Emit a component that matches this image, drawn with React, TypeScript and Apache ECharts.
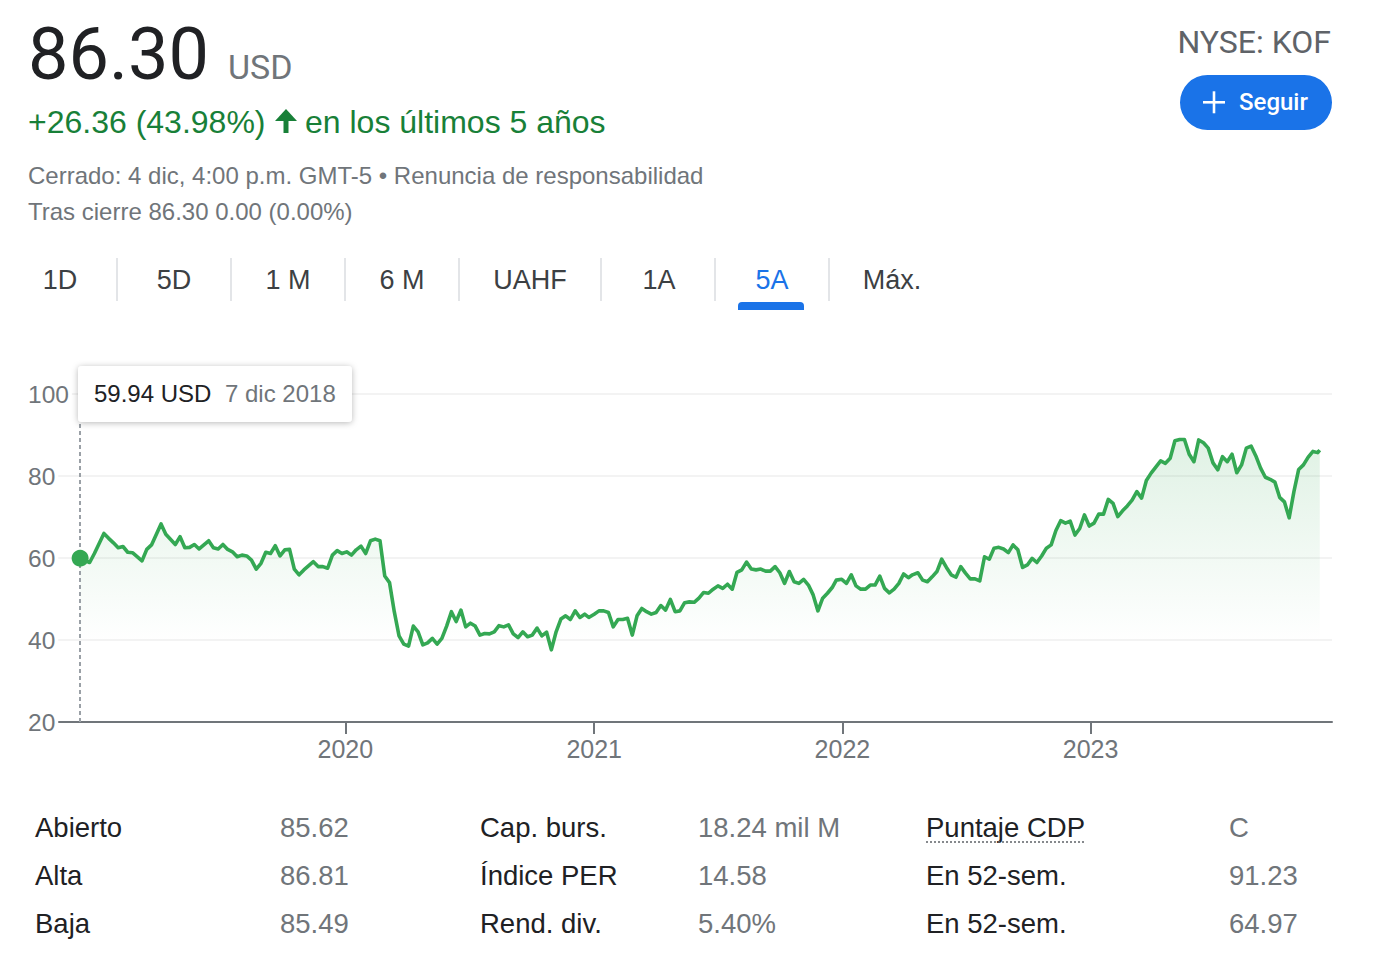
import React, { useEffect, useRef } from "react";
import * as echarts from "echarts";

// ---- data ----
const dates = [
  "2018-12-07","2018-12-21","2018-12-28","2019-01-11","2019-01-18","2019-01-25","2019-02-01","2019-02-08","2019-02-15","2019-02-22",
  "2019-03-08","2019-03-15","2019-03-22","2019-04-05","2019-04-12","2019-04-26","2019-05-03","2019-05-10","2019-05-17","2019-05-24",
  "2019-05-31","2019-06-14","2019-06-21","2019-06-28","2019-07-05","2019-07-12","2019-07-19","2019-07-26","2019-08-02","2019-08-09",
  "2019-08-16","2019-08-23","2019-08-30","2019-09-06","2019-09-13","2019-09-20","2019-09-27","2019-10-04","2019-10-11","2019-10-18",
  "2019-10-25","2019-11-01","2019-11-15","2019-11-22","2019-11-29","2019-12-06","2019-12-13","2019-12-20","2019-12-27","2020-01-03",
  "2020-01-10","2020-01-17","2020-01-24","2020-01-31","2020-02-07","2020-02-14","2020-02-21","2020-02-28","2020-03-06","2020-03-13",
  "2020-03-20","2020-03-27","2020-04-03","2020-04-10","2020-04-17","2020-04-24","2020-05-01","2020-05-08","2020-05-15","2020-05-22",
  "2020-05-29","2020-06-05","2020-06-12","2020-06-19","2020-06-26","2020-07-03","2020-07-10","2020-07-17","2020-07-24","2020-07-31",
  "2020-08-07","2020-08-14","2020-08-21","2020-08-28","2020-09-04","2020-09-11","2020-09-18","2020-09-25","2020-10-02","2020-10-09",
  "2020-10-16","2020-10-23","2020-10-30","2020-11-06","2020-11-13","2020-11-20","2020-11-27","2020-12-04","2020-12-11","2020-12-18",
  "2020-12-24","2021-01-01","2021-01-08","2021-01-15","2021-01-22","2021-01-29","2021-02-05","2021-02-12","2021-02-19","2021-02-26",
  "2021-03-05","2021-03-12","2021-03-19","2021-03-26","2021-04-02","2021-04-09","2021-04-16","2021-04-23","2021-04-30","2021-05-07",
  "2021-05-14","2021-05-21","2021-05-28","2021-06-04","2021-06-11","2021-06-18","2021-06-25","2021-07-02","2021-07-09","2021-07-16",
  "2021-07-23","2021-07-30","2021-08-06","2021-08-13","2021-08-20","2021-08-27","2021-09-03","2021-09-10","2021-09-17","2021-09-24",
  "2021-10-01","2021-10-08","2021-10-15","2021-10-22","2021-10-29","2021-11-05","2021-11-12","2021-11-19","2021-11-26","2021-12-03",
  "2021-12-10","2021-12-17","2021-12-23","2021-12-31","2022-01-07","2022-01-14","2022-01-21","2022-01-28","2022-02-04","2022-02-11",
  "2022-02-18","2022-02-25","2022-03-04","2022-03-11","2022-03-18","2022-03-25","2022-04-01","2022-04-08","2022-04-14","2022-04-22",
  "2022-04-29","2022-05-06","2022-05-13","2022-05-20","2022-05-27","2022-06-03","2022-06-10","2022-06-17","2022-06-24","2022-07-01",
  "2022-07-08","2022-07-15","2022-07-22","2022-07-29","2022-08-05","2022-08-12","2022-08-19","2022-08-26","2022-09-02","2022-09-09",
  "2022-09-16","2022-09-23","2022-09-30","2022-10-07","2022-10-14","2022-10-21","2022-10-28","2022-11-04","2022-11-11","2022-11-18",
  "2022-11-25","2022-12-02","2022-12-09","2022-12-16","2022-12-23","2022-12-30","2023-01-06","2023-01-13","2023-01-20","2023-01-27",
  "2023-02-03","2023-02-10","2023-02-17","2023-02-24","2023-03-03","2023-03-10","2023-03-17","2023-03-24","2023-03-31","2023-04-06",
  "2023-04-14","2023-04-21","2023-04-28","2023-05-05","2023-05-12","2023-05-19","2023-05-26","2023-06-02","2023-06-09","2023-06-16",
  "2023-06-23","2023-06-30","2023-07-07","2023-07-14","2023-07-21","2023-07-28","2023-08-04","2023-08-11","2023-08-18","2023-08-25",
  "2023-09-01","2023-09-08","2023-09-15","2023-09-22","2023-09-29","2023-10-06","2023-10-13","2023-10-20","2023-10-27","2023-11-03",
  "2023-11-10","2023-11-17","2023-11-24","2023-12-01","2023-12-04",
];

const prices = [
  59.94,58.9,61.1,66.0,64.8,63.7,62.5,62.8,61.4,61.3,
  59.3,62.1,63.2,68.3,65.8,63.3,65.2,62.5,62.6,63.3,
  62.2,64.2,62.5,62.2,63.3,62.1,61.5,60.3,60.7,60.5,
  59.5,57.3,58.7,61.4,61.1,63.0,60.5,62.0,62.1,57.3,
  55.9,57.1,59.1,57.9,57.9,57.5,60.7,61.8,61.1,61.5,
  60.7,62.0,62.9,61.1,64.2,64.6,64.2,55.6,54.0,46.9,
  41.0,39.0,38.5,43.4,42.0,38.8,39.3,40.4,39.0,40.4,
  43.4,46.9,44.5,47.3,43.2,44.1,43.4,41.2,41.6,41.5,
  42.0,43.5,43.2,43.7,41.5,40.6,42.0,40.8,41.2,42.9,
  41.0,41.9,37.6,42.0,45.1,45.9,45.0,47.1,45.5,46.3,
  45.5,46.3,47.1,47.1,46.7,43.2,45.0,45.0,45.3,41.2,
  45.9,47.7,46.9,46.3,46.7,48.4,47.3,49.9,46.9,47.1,
  49.1,49.3,49.2,50.2,51.6,51.4,52.4,53.2,52.6,53.6,
  52.4,56.5,57.1,59.0,57.3,57.1,57.3,56.8,56.8,57.9,
  56.4,53.8,56.7,54.2,53.8,54.8,53.4,51.0,47.1,50.2,
  51.4,52.8,54.6,54.8,53.8,55.9,53.2,52.4,52.4,53.4,
  53.4,55.6,52.6,51.5,52.4,53.8,56.1,55.2,55.9,56.4,
  54.6,54.2,55.4,56.7,59.7,57.7,55.9,55.3,57.9,56.3,
  54.9,54.9,54.4,60.3,59.7,62.4,62.6,62.2,61.3,63.2,
  62.0,57.7,58.3,59.9,58.9,60.5,62.4,63.2,66.7,69.1,
  68.5,69.0,65.6,67.2,70.5,67.8,68.5,70.7,70.7,74.3,
  73.3,70.1,71.5,72.7,74.1,76.2,74.6,78.9,80.7,82.0,
  83.7,83.1,84.3,88.6,88.9,88.9,85.3,83.5,88.8,88.1,
  86.8,83.2,81.5,84.7,83.5,85.3,80.8,82.7,86.8,87.3,
  84.9,81.9,79.7,79.2,78.5,74.8,73.7,69.8,76.2,81.6,
  82.7,84.6,86.0,85.7,86.30,
];

const yTicks = [20, 40, 60, 80, 100];
const yearTicks = [2020, 2021, 2022, 2023];
const monthsEs = ["ene", "feb", "mar", "abr", "may", "jun", "jul", "ago", "sept", "oct", "nov", "dic"];

const ticker = "NYSE: KOF";
const lastPrice = "86.30";
const currency = "USD";
const changeText = "+26.36 (43.98%)";
const periodText = "en los últimos 5 años";
const closedText = "Cerrado: 4 dic, 4:00 p.m. GMT-5 • Renuncia de responsabilidad";
const afterText = "Tras cierre 86.30 0.00 (0.00%)";
const tabLabels = ["1D", "5D", "1 M", "6 M", "UAHF", "1A", "5A", "Máx."];
const activeTab = "5A";

const statsLabels = [
  ["Abierto", "Alta", "Baja"],
  ["Cap. burs.", "Índice PER", "Rend. div."],
  ["Puntaje CDP", "En 52-sem.", "En 52-sem."],
];
const statsValues = [
  ["85.62", "86.81", "85.49"],
  ["18.24 mil M", "14.58", "5.40%"],
  ["C", "91.23", "64.97"],
];

// ---- layout ----
const ARIAL = "'Liberation Sans', Arial, sans-serif";
const ROBOTO = "Roboto, Arial, sans-serif";
const GREEN = "#188038";
const LINE_GREEN = "#34a853";
const GRAY = "#70757a";
const DARK = "#202124";
const BLUE = "#1a73e8";

const tabCenters = [60, 174, 288, 402, 530, 659, 772, 892];
const tabSeparators = [117, 231, 345, 459, 601, 715, 829];
const statLabelX = [35, 480, 926];
const statValueX = [280, 698, 1229];
const statRowY = [827, 875, 923];

function txt(
  text: string,
  x: number,
  y: number,
  size: number,
  fill: string,
  align = "left",
  weight = 400,
  z = 10,
  family = ARIAL
) {
  return {
    type: "text",
    z,
    style: {
      text,
      x,
      y,
      fill,
      fontSize: size,
      fontFamily: family,
      fontWeight: weight,
      align,
      textAlign: align,
      verticalAlign: "middle",
      textVerticalAlign: "middle",
    },
  };
}

function fmtDate(s: string) {
  const [y, m, d] = s.split("-").map(Number);
  return `${d} ${monthsEs[m - 1]} ${y}`;
}

export default function App() {
  const ref = useRef<HTMLDivElement>(null);

  useEffect(() => {
    if (!ref.current) return;
    const chart = echarts.init(ref.current, null, { renderer: "svg" });
    const data = dates.map((d, i) => [Date.parse(d), prices[i]]);
    const yearValues = yearTicks.map((y) => Date.UTC(y, 0, 1));

    const graphics: any[] = [];
    // header
    graphics.push(txt(lastPrice, 28, 54, 72, DARK, "left", 400, 10, ROBOTO));
    graphics.push(txt(currency, 228, 67, 34, GRAY, "left", 400, 10, ROBOTO));
    graphics.push(txt(changeText, 28, 122, 32, GREEN));
    graphics.push({
      type: "polygon",
      z: 10,
      shape: { points: [[286, 109], [275, 121], [297, 121]] },
      style: { fill: GREEN },
    });
    graphics.push({ type: "rect", z: 10, shape: { x: 283.5, y: 119, width: 5, height: 14 }, style: { fill: GREEN } });
    graphics.push(txt(periodText, 305, 122, 32, GREEN));
    graphics.push(txt(closedText, 28, 175.5, 24, GRAY));
    graphics.push(txt(afterText, 28, 211.5, 24, GRAY));
    graphics.push(txt(ticker, 1331, 42, 32, "#5f6368", "right", 400, 10, ROBOTO));
    graphics.push({
      type: "rect",
      z: 10,
      shape: { x: 1180, y: 75, width: 152, height: 55, r: 27.5 },
      style: { fill: BLUE },
    });
    graphics.push({ type: "rect", z: 11, shape: { x: 1203, y: 101, width: 22, height: 2.6 }, style: { fill: "#fff" } });
    graphics.push({ type: "rect", z: 11, shape: { x: 1212.7, y: 91.3, width: 2.6, height: 22 }, style: { fill: "#fff" } });
    graphics.push(txt("Seguir", 1239, 102, 24, "#fff", "left", 500, 11, ROBOTO));

    // tabs
    tabLabels.forEach((t, i) => {
      graphics.push(txt(t, tabCenters[i], 279.5, 27, t === activeTab ? BLUE : "#3c4043", "center"));
    });
    tabSeparators.forEach((x) => {
      graphics.push({
        type: "line",
        z: 10,
        shape: { x1: x, y1: 258, x2: x, y2: 301 },
        style: { stroke: "#dadce0", lineWidth: 1.5 },
      });
    });
    graphics.push({
      type: "rect",
      z: 10,
      shape: { x: 738, y: 302, width: 66, height: 8, r: [4, 4, 0, 0] },
      style: { fill: BLUE },
    });

    // tooltip box
    graphics.push({
      type: "rect",
      z: 100,
      shape: { x: 78, y: 366, width: 274, height: 56, r: 4 },
      style: {
        fill: "#fff",
        shadowBlur: 6,
        shadowOffsetY: 1,
        shadowColor: "rgba(0,0,0,0.28)",
      },
    });
    graphics.push(txt(`${prices[0].toFixed(2)} ${currency}`, 94, 393, 24, DARK, "left", 400, 101));
    graphics.push(txt(fmtDate(dates[0]), 225, 393, 24, GRAY, "left", 400, 101));

    // stats
    statsLabels.forEach((col, c) => {
      col.forEach((lab, r) => {
        graphics.push(txt(lab, statLabelX[c], statRowY[r], 27.5, DARK));
        graphics.push(txt(statsValues[c][r], statValueX[c], statRowY[r], 27.5, GRAY));
      });
    });
    graphics.push({
      type: "line",
      z: 10,
      shape: { x1: 926, y1: 842, x2: 1085, y2: 842 },
      style: { stroke: "#5f6368", lineWidth: 1.5, lineDash: [2, 2] },
    });

    chart.setOption({
      animation: false,
      backgroundColor: "#ffffff",
      grid: { left: 57, right: 57, top: 394, bottom: 255, containLabel: false },
      xAxis: {
        type: "value",
        min: Date.UTC(2018, 10, 3),
        max: Date.UTC(2023, 11, 22),
        axisLine: { show: true, lineStyle: { color: "#70757a", width: 2 } },
        axisTick: {
          show: true,
          length: 12,
          customValues: yearValues,
          lineStyle: { color: "#70757a", width: 2 },
        },
        splitLine: { show: false },
        axisLabel: {
          customValues: yearValues,
          formatter: (v: number) => String(new Date(v).getUTCFullYear()),
          color: GRAY,
          fontSize: 25,
          fontFamily: ARIAL,
          margin: 14,
        },
      },
      yAxis: {
        type: "value",
        min: yTicks[0],
        max: yTicks[yTicks.length - 1],
        interval: yTicks[1] - yTicks[0],
        axisLine: { show: false },
        axisTick: { show: false },
        splitLine: { lineStyle: { color: "#efefef", width: 1.5 } },
        axisLabel: {
          color: GRAY,
          fontSize: 24.5,
          fontFamily: ARIAL,
          align: "left",
          margin: 29,
          backgroundColor: "#ffffff",
          padding: [1, 3, 3, 0],
        },
      },
      graphic: graphics,
      series: [
        {
          type: "line",
          data,
          showSymbol: false,
          symbol: "none",
          lineStyle: { color: LINE_GREEN, width: 3.6, join: "round" },
          areaStyle: {
            origin: "start",
            color: new echarts.graphic.LinearGradient(0, 0, 0, 1, [
              { offset: 0, color: "rgba(52,168,83,0.22)" },
              { offset: 0.72, color: "rgba(52,168,83,0.0)" },
              { offset: 1, color: "rgba(52,168,83,0.0)" },
            ]),
          },
          markLine: {
            silent: true,
            symbol: "none",
            label: { show: false },
            lineStyle: { color: "#9aa0a6", type: [4, 3], width: 2 },
            data: [{ xAxis: data[0][0] }],
          },
          z: 3,
        },
        {
          type: "scatter",
          data: [data[0]],
          symbolSize: 17,
          itemStyle: { color: LINE_GREEN, opacity: 1 },
          z: 5,
        },
      ],
    });
    return () => chart.dispose();
  }, []);

  return <div ref={ref} style={{ position: "fixed", left: 0, top: 0, width: 1389, height: 977 }} />;
}
